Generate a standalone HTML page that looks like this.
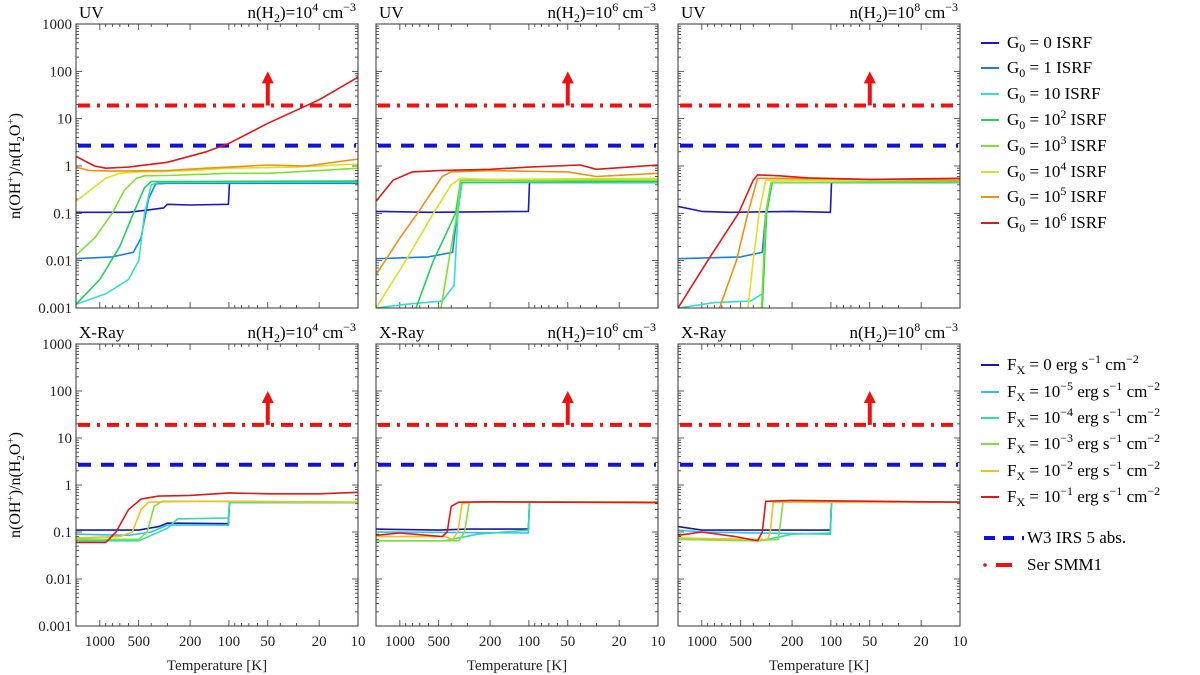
<!DOCTYPE html>
<html><head><meta charset="utf-8">
<style>
html,body{margin:0;padding:0;background:#fff;}
svg{display:block;font-family:"Liberation Serif",serif;}
</style></head>
<body>
<svg id="fig" width="1200" height="675" viewBox="0 0 1200 675" xmlns="http://www.w3.org/2000/svg"></svg>
<script>
// ---- data ----
const tempTicks = [1000, 500, 200, 100, 50, 20, 10];
const tempTickLabels = ["1000", "500", "200", "100", "50", "20", "10"];
const ratioTicks = [0.001, 0.01, 0.1, 1, 10, 100, 1000];
const ratioTickLabels = ["0.001", "0.01", "0.1", "1", "10", "100", "1000"];
const w3Value = 2.7;
const serValue = 19;
const serArrowTop = 100;
const serArrowT = 50;
const uvColors = ["#1818c8", "#1a80e0", "#30e0d0", "#20d060", "#80e030", "#e0e020", "#f09010", "#e01818"];
const uvLabels = ["0", "1", "10", "10|2", "10|3", "10|4", "10|5", "10|6"];
const xrColors = ["#1a1aa0", "#30c0f0", "#30e0a0", "#80e040", "#f0c020", "#e01818"];
const xrLabels = ["0", "−5", "−4", "−3", "−2", "−1"];
const densities = ["4", "6", "8"];

const uv4 = [
 [[1530,0.105],[600,0.105],[400,0.12],[320,0.13],[300,0.155],[200,0.15],[101,0.155],[99,0.45],[10,0.45]],
 [[1530,0.011],[800,0.012],[550,0.015],[480,0.03],[420,0.2],[370,0.42],[300,0.43],[10,0.43]],
 [[1530,0.0012],[900,0.002],[600,0.004],[500,0.01],[450,0.1],[400,0.4],[350,0.45],[10,0.46]],
 [[1530,0.0012],[1000,0.004],[700,0.02],[550,0.1],[450,0.35],[400,0.47],[10,0.48]],
 [[1530,0.013],[1100,0.03],[800,0.1],[650,0.3],[520,0.55],[450,0.62],[300,0.63],[100,0.7],[50,0.7],[20,0.8],[10,0.9]],
 [[1530,0.18],[1200,0.3],[900,0.55],[700,0.7],[500,0.75],[200,0.8],[100,0.9],[30,0.95],[10,1.1]],
 [[1530,0.95],[1200,0.8],[800,0.78],[300,0.8],[150,0.9],[100,0.95],[50,1.05],[25,1.0],[10,1.4]],
 [[1530,1.6],[1100,1.0],[900,0.9],[600,0.95],[300,1.2],[150,2.0],[100,3.0],[50,8],[20,25],[10,75]]
];
const uv6 = [
 [[1530,0.11],[600,0.105],[101,0.11],[99,0.45],[10,0.45]],
 [[1530,0.011],[600,0.012],[390,0.015],[360,0.1],[330,0.45],[10,0.45]],
 [[1530,0.001],[900,0.0012],[470,0.0014],[380,0.003],[355,0.1],[330,0.45],[10,0.45]],
 [[750,0.001],[550,0.01],[370,0.1],[340,0.45],[10,0.47]],
 [[480,0.001],[400,0.02],[360,0.1],[340,0.5],[10,0.5]],
 [[1530,0.001],[900,0.01],[550,0.1],[400,0.4],[340,0.55],[200,0.52],[10,0.55]],
 [[1530,0.005],[1000,0.03],[730,0.1],[470,0.6],[400,0.75],[200,0.8],[50,0.75],[30,0.6],[10,0.7]],
 [[1530,0.18],[1130,0.5],[800,0.75],[500,0.8],[200,0.85],[100,0.95],[40,1.05],[30,0.85],[10,1.05]]
];
const uv8 = [
 [[1530,0.14],[1000,0.11],[600,0.105],[200,0.11],[101,0.105],[99,0.45],[10,0.45]],
 [[1530,0.011],[500,0.012],[340,0.015],[320,0.1],[290,0.45],[10,0.45]],
 [[1530,0.001],[800,0.0013],[420,0.0014],[340,0.002],[315,0.1],[285,0.45],[10,0.45]],
 [[340,0.001],[315,0.1],[285,0.45],[10,0.46]],
 [[345,0.001],[320,0.1],[290,0.45],[10,0.47]],
 [[440,0.001],[400,0.01],[360,0.1],[320,0.5],[10,0.5]],
 [[730,0.001],[540,0.01],[440,0.1],[370,0.55],[300,0.55],[10,0.5]],
 [[1530,0.001],[900,0.01],[520,0.1],[400,0.5],[370,0.65],[250,0.62],[150,0.56],[50,0.52],[10,0.55]]
];
const xr4 = [
 [[1530,0.11],[500,0.11],[350,0.13],[300,0.155],[101,0.15],[99,0.42],[10,0.42]],
 [[1530,0.09],[600,0.085],[400,0.1],[300,0.14],[101,0.14],[99,0.42],[10,0.42]],
 [[1530,0.065],[500,0.065],[300,0.12],[250,0.19],[101,0.2],[99,0.42],[10,0.42]],
 [[1530,0.07],[500,0.07],[430,0.1],[380,0.35],[330,0.45],[100,0.45],[10,0.43]],
 [[1530,0.075],[700,0.08],[560,0.1],[480,0.3],[420,0.43],[200,0.45],[10,0.43]],
 [[1530,0.06],[900,0.06],[750,0.1],[600,0.3],[480,0.5],[350,0.58],[200,0.6],[100,0.68],[50,0.65],[20,0.65],[10,0.7]]
];
const xr6 = [
 [[1530,0.115],[500,0.11],[300,0.115],[101,0.115],[99,0.43],[10,0.43]],
 [[1530,0.1],[101,0.095],[99,0.43],[10,0.43]],
 [[1530,0.065],[450,0.065],[250,0.09],[101,0.11],[99,0.43],[10,0.43]],
 [[1530,0.065],[350,0.065],[315,0.1],[290,0.43],[10,0.44]],
 [[1530,0.08],[450,0.08],[390,0.07],[355,0.1],[330,0.4],[260,0.44],[10,0.43]],
 [[1530,0.085],[1000,0.095],[470,0.08],[430,0.1],[400,0.35],[350,0.43],[200,0.44],[10,0.42]]
];
const xr8 = [
 [[1530,0.13],[1000,0.11],[101,0.11],[99,0.43],[10,0.43]],
 [[1530,0.11],[1000,0.1],[101,0.09],[99,0.43],[10,0.43]],
 [[1530,0.07],[350,0.065],[200,0.09],[101,0.095],[99,0.43],[10,0.43]],
 [[1530,0.07],[400,0.065],[255,0.07],[235,0.43],[10,0.43]],
 [[1530,0.075],[450,0.07],[310,0.07],[295,0.1],[280,0.43],[10,0.43]],
 [[1530,0.085],[1000,0.1],[550,0.08],[370,0.065],[340,0.1],[320,0.45],[200,0.47],[10,0.43]]
];

// ---- layout ----
const NS = "http://www.w3.org/2000/svg";
const svg = document.getElementById("fig");
const TMAX = 1530, TMIN = 10, RMIN = 0.001, RMAX = 1000;
const colX = [76, 376, 678], PW = 282;
const rowY = [24, 344], PH = [284, 282];

function mk(tag, attrs, parent) {
  const e = document.createElementNS(NS, tag);
  for (const k in attrs) e.setAttribute(k, attrs[k]);
  (parent || svg).appendChild(e);
  return e;
}
function xScale(x0, T) { return x0 + (Math.log10(TMAX) - Math.log10(T)) / (Math.log10(TMAX) - Math.log10(TMIN)) * PW; }
function yScale(y0, h, r) { return y0 + (Math.log10(RMAX) - Math.log10(r)) / (Math.log10(RMAX) - Math.log10(RMIN)) * h; }

function densityText(parent, x, y, d) {
  const t = mk("text", {x: x, y: y, "font-size": 17, "text-anchor": "end"}, parent);
  
  
  t.innerHTML = 'n(H<tspan font-size="12" dy="4">2</tspan><tspan dy="-4">)=10</tspan><tspan font-size="12" dy="-7">' + d + '</tspan><tspan dy="7"> cm</tspan><tspan font-size="12" dy="-7">−3</tspan>';
}

function panel(row, col, series, colors, kind) {
  const x0 = colX[col], y0 = rowY[row], h = PH[row];
  const g = mk("g", {});
  
  
  const t1 = mk("text", {x: x0 + 3, y: y0 - 6, "font-size": 17}, g);
  
  
  t1.textContent = kind === "uv" ? "UV" : "X-Ray";
  densityText(g, x0 + PW - 2, y0 - 6, densities[col]);
  const ticks = mk("g", {stroke: "#333", "stroke-width": 0.8}, g);
  
  
  for (let e = -3; e <= 3; e++) {
    for (let m = 1; m <= 9; m++) {
      const v = m * Math.pow(10, e);
      if (v > RMAX * 1.0001) continue;
      const y = yScale(y0, h, v);
      const len = m === 1 ? 6 : 3;
      mk("line", {x1: x0, x2: x0 + len, y1: y, y2: y}, ticks);
      mk("line", {x1: x0 + PW, x2: x0 + PW - len, y1: y, y2: y}, ticks);
    }
  }
  const minorT = [1000,900,800,700,600,500,400,300,200,100,90,80,70,60,50,40,30,20,10];
  minorT.forEach(T => {
    const x = xScale(x0, T);
    const major = tempTicks.indexOf(T) >= 0;
    const len = major ? 6 : 3;
    mk("line", {x1: x, x2: x, y1: y0 + h, y2: y0 + h - len}, ticks);
    mk("line", {x1: x, x2: x, y1: y0, y2: y0 + len}, ticks);
  });
  if (col === 0) {
    ratioTicks.forEach((v, i) => {
      const tl = mk("text", {x: x0 - 4, y: yScale(y0, h, v) + 5, "font-size": 15, "text-anchor": "end", fill: "#222"}, g);
      
      
      tl.textContent = ratioTickLabels[i];
    });
  }
  if (row === 1) {
    tempTicks.forEach((T, i) => {
      const tl = mk("text", {x: xScale(x0, T), y: y0 + h + 20, "font-size": 15, "text-anchor": "middle", fill: "#222"}, g);
      
      
      tl.textContent = tempTickLabels[i];
    });
    const xt = mk("text", {x: x0 + PW / 2, y: y0 + h + 44, "font-size": 15, "text-anchor": "middle", fill: "#222"}, g);
    
    
    xt.textContent = "Temperature [K]";
  }
  const yw = yScale(y0, h, w3Value);
  const w3 = mk("line", {x1: x0 + 2, x2: x0 + PW - 2, y1: yw, y2: yw, stroke: "#1010e0", "stroke-width": 4, "stroke-dasharray": "13 10"}, g);
  
  
  const ys = yScale(y0, h, serValue);
  const ser = mk("line", {x1: x0 + 2, x2: x0 + PW - 2, y1: ys, y2: ys, stroke: "#f01010", "stroke-width": 4, "stroke-dasharray": "12 7 3 7"}, g);
  
  
  const ax = xScale(x0, serArrowT), ayt = yScale(y0, h, serArrowTop);
  const arr = mk("g", {fill: "#f01010", stroke: "none"}, g);
  
  
  mk("rect", {x: ax - 2, y: ayt + 10, width: 4, height: ys - ayt - 10}, arr);
  mk("polygon", {points: (ax - 6) + "," + (ayt + 12) + " " + (ax + 6) + "," + (ayt + 12) + " " + ax + "," + ayt}, arr);
  const clipId = "clip" + row + col;
  const cp = mk("clipPath", {id: clipId}, g);
  mk("rect", {x: x0, y: y0, width: PW, height: h}, cp);
  const sg = mk("g", {"clip-path": "url(#" + clipId + ")", fill: "none", "stroke-width": 1.6, "stroke-linejoin": "round"}, g);
  series.forEach((pts, i) => {
    const d = pts.map((p, j) => (j ? "L" : "M") + xScale(x0, p[0]).toFixed(1) + "," + yScale(y0, h, p[1]).toFixed(1)).join("");
    const path = mk("path", {d: d, stroke: colors[i]}, sg);
    
    
  });
  const fr = mk("rect", {x: x0, y: y0, width: PW, height: h, fill: "none", stroke: "#333", "stroke-width": 1}, g);
  
  
}

panel(0, 0, uv4, uvColors, "uv");
panel(0, 1, uv6, uvColors, "uv");
panel(0, 2, uv8, uvColors, "uv");
panel(1, 0, xr4, xrColors, "xr");
panel(1, 1, xr6, xrColors, "xr");
panel(1, 2, xr8, xrColors, "xr");

[0, 1].forEach(r => {
  const cy = rowY[r] + PH[r] / 2;
  const yt = mk("text", {x: 0, y: 0, "font-size": 16, "text-anchor": "middle", transform: "translate(20," + cy + ") rotate(-90)"});
  
  
  yt.innerHTML = 'n(OH<tspan font-size="11" dy="-6">+</tspan><tspan dy="6">)/n(H</tspan><tspan font-size="11" dy="4">2</tspan><tspan dy="-4">O</tspan><tspan font-size="11" dy="-6">+</tspan><tspan dy="6">)</tspan>';
});

const uvLegY = [48, 73, 99, 125, 151, 177, 202, 228];
uvLabels.forEach((lab, i) => {
  const y = uvLegY[i];
  const g = mk("g", {});
  
  
  mk("line", {x1: 981, x2: 999, y1: y - 5, y2: y - 5, stroke: uvColors[i], "stroke-width": 2}, g);
  const t = mk("text", {x: 1007, y: y, "font-size": 17}, g);
  const parts = lab.split("|");
  let html = 'G<tspan font-size="12" dy="4">0</tspan><tspan dy="-4"> = ' + parts[0] + '</tspan>';
  if (parts[1]) html += '<tspan font-size="12" dy="-7">' + parts[1] + '</tspan><tspan dy="7"> ISRF</tspan>';
  else html += '<tspan> ISRF</tspan>';
  t.innerHTML = html;
});
const xrLegY = [370, 397, 423, 449, 476, 502];
xrLabels.forEach((lab, i) => {
  const y = xrLegY[i];
  const g = mk("g", {});
  
  
  mk("line", {x1: 981, x2: 999, y1: y - 5, y2: y - 5, stroke: xrColors[i], "stroke-width": 2}, g);
  const t = mk("text", {x: 1007, y: y, "font-size": 17}, g);
  let html = 'F<tspan font-size="12" dy="4">X</tspan><tspan dy="-4"> = </tspan>';
  if (lab === "0") html += '<tspan>0</tspan><tspan> erg s</tspan>';
  else html += '<tspan>10</tspan><tspan font-size="12" dy="-7">' + lab + '</tspan><tspan dy="7"> erg s</tspan>';
  html += '<tspan font-size="12" dy="-7">−1</tspan><tspan dy="7"> cm</tspan><tspan font-size="12" dy="-7">−2</tspan>';
  t.innerHTML = html;
});
{
  const g = mk("g", {});
  
  
  mk("line", {x1: 984, x2: 1024, y1: 538, y2: 538, stroke: "#1010e0", "stroke-width": 4, "stroke-dasharray": "11 8"}, g);
  const t = mk("text", {x: 1027, y: 543, "font-size": 17}, g);
  t.textContent = "W3 IRS 5 abs.";
  const g2 = mk("g", {});
  
  
  mk("circle", {cx: 985, cy: 565, r: 1.8, fill: "#f01010"}, g2);
  mk("line", {x1: 996, x2: 1012, y1: 565, y2: 565, stroke: "#f01010", "stroke-width": 4}, g2);
  const t2 = mk("text", {x: 1027, y: 570, "font-size": 17}, g2);
  t2.textContent = "Ser SMM1";
}
</script>
</body></html>
